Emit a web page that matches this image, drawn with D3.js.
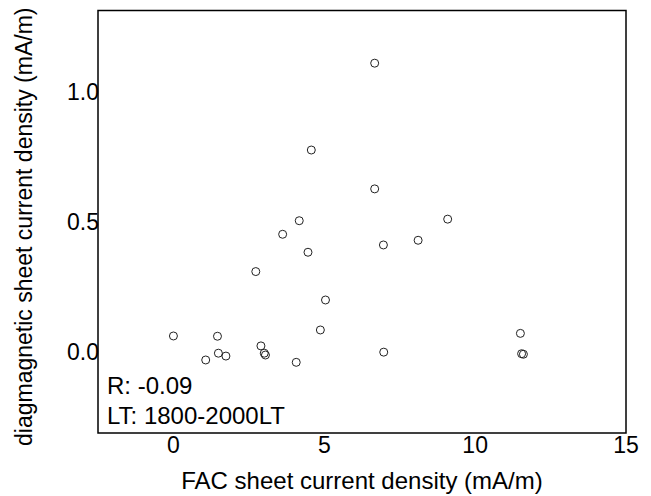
<!DOCTYPE html>
<html>
<head>
<meta charset="utf-8">
<script src="https://cdn.jsdelivr.net/npm/d3@7"></script>
<style>
  body { margin: 0; background: #fff; }
  text { font-family: "Liberation Sans", Arial, sans-serif; fill: #000; }
</style>
</head>
<body>
<div id="chart"></div>
<script>
// FAC vs diamagnetic sheet current density, 1800-2000 LT
const facValues = [0.00, 1.46, 1.07, 1.49, 1.74, 2.90, 3.01, 3.05, 4.07, 4.87, 5.04, 4.17, 3.62, 4.46, 2.73, 4.57, 6.67, 6.67, 9.09, 6.96, 8.11, 11.50, 11.54, 11.60, 6.97];
const diaValues = [0.062, 0.061, -0.030, -0.004, -0.015, 0.024, -0.004, -0.011, -0.039, 0.085, 0.200, 0.504, 0.452, 0.383, 0.309, 0.775, 1.108, 0.626, 0.510, 0.411, 0.429, 0.072, -0.006, -0.008, 0.000];
const xTicks = [0, 5, 10, 15];
const yTicks = [0.0, 0.5, 1.0];
const notes = ["R: -0.09", "LT: 1800-2000LT"];

let width = 651,
  height = 496;

let plot = { left: 98, right: 626, top: 10.5, bottom: 433 };

let svg = d3.select("#chart")
  .append("svg")
  .attr("width", width)
  .attr("height", height);

let x = d3.scaleLinear()
  .domain([-2.5, 15])
  .range([plot.left, plot.right]);

let y = d3.scaleLinear()
  .domain([-0.31, 1.31])
  .range([plot.bottom, plot.top]);

let data = facValues.map((v, i) => ({ fac: v, dia: diaValues[i] }));

// points
svg.append("g")
  .selectAll("circle")
  .data(data)
  .join("circle")
  .attr("cx", d => x(d.fac))
  .attr("cy", d => y(d.dia))
  .attr("r", 4)
  .attr("fill", "none")
  .attr("stroke", "#222")
  .attr("stroke-width", 1);

// frame
svg.append("rect")
  .attr("x", plot.left)
  .attr("y", plot.top)
  .attr("width", plot.right - plot.left)
  .attr("height", plot.bottom - plot.top)
  .attr("fill", "none")
  .attr("stroke", "#000")
  .attr("stroke-width", 1.5);

// tick labels (no tick marks in the original)
svg.append("g")
  .selectAll("text")
  .data(xTicks)
  .join("text")
  .attr("x", d => x(d))
  .attr("y", 453)
  .attr("text-anchor", "middle")
  .style("font-size", "23px")
  .text(d => d);

svg.append("g")
  .selectAll("text")
  .data(yTicks)
  .join("text")
  .attr("x", 99)
  .attr("y", d => y(d))
  .attr("dy", "0.36em")
  .attr("text-anchor", "end")
  .style("font-size", "23px")
  .text(d => d3.format(".1f")(d));

// axis titles
svg.append("text")
  .attr("x", (plot.left + plot.right) / 2)
  .attr("y", 489)
  .attr("text-anchor", "middle")
  .style("font-size", "24px")
  .text("FAC sheet current density (mA/m)");

svg.append("text")
  .attr("transform", `translate(32,${(plot.top + plot.bottom) / 2 + 5}) rotate(-90)`)
  .attr("text-anchor", "middle")
  .style("font-size", "23px")
  .text("diagmagnetic sheet current density (mA/m)");

// annotation
svg.append("g")
  .selectAll("text")
  .data(notes)
  .join("text")
  .attr("x", 107)
  .attr("y", (d, i) => 394 + i * 30)
  .style("font-size", "24px")
  .text(d => d);
</script>
</body>
</html>
